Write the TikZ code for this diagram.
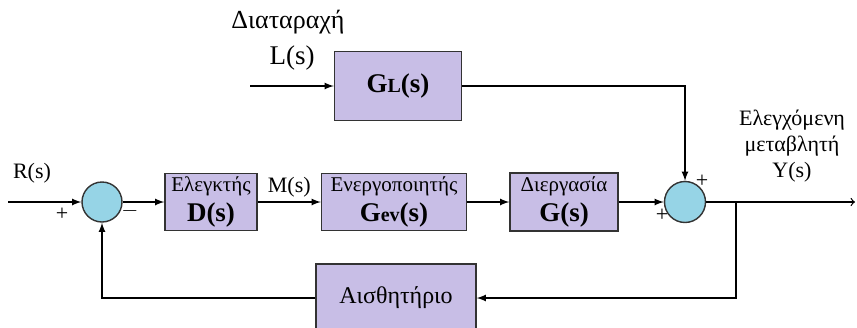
\documentclass[tikz,border=0pt]{standalone}
\usepackage{fontspec}
\setmainfont{Liberation Serif}
\usepackage{tikz}
\usetikzlibrary{shapes.misc, positioning, shapes.geometric, arrows}
\definecolor{boxfill}{RGB}{200,190,230}
\definecolor{sumfill}{RGB}{150,212,230}
\tikzstyle{block} = [rectangle, draw=black!80, fill=boxfill, line width=0.7pt, text centered, align=center, inner sep=1pt]
\tikzstyle{sumnode} = [circle, draw=black!80, fill=sumfill, line width=0.7pt, minimum size=20pt, inner sep=0pt]
\tikzstyle{arrow} = [line width=0.6pt,->,>=latex]
\tikzstyle{line} = [line width=0.6pt]
\tikzstyle{lbl} = [inner sep=0pt, font=\fontsize{11}{13}\selectfont]
\def\smalltxt{\fontsize{10.5}{12}\selectfont}
\def\bigtxt{\fontsize{13.5}{15}\selectfont\bfseries}

\begin{document}
\begin{tikzpicture}[x=0.5pt,y=-0.5pt]
\useasboundingbox (0,0) rectangle (857,327);

\node (gl) [block, minimum width=63.5pt, minimum height=34.5pt] at (398,86) {\bigtxt G{\fontsize{10}{12}\selectfont L}(s)};
\node (dist) [lbl, font=\fontsize{13}{15}\selectfont] at (288,22) {Διαταραχή};
\node (lin) [lbl, font=\fontsize{13.5}{15}\selectfont] at (292,58) {L(s)};
\coordinate (lstart) at (250,86);
\draw [arrow] (lstart) -- (gl);

\node (sum1) [sumnode] at (102,202) {};
\coordinate (rstart) at (8,202);
\node (rin) [lbl] at (32,173) {R(s)};
\draw [arrow] (rstart) -- (sum1);
\node (plus1) [lbl] at (62,214) {+};
\node (minus1) [lbl] at (130,211) {$-$};

\node (ctrl) [block, minimum width=46pt, minimum height=28.5pt] at (211,202) {{\smalltxt Ελεγκτής}\\[3pt]{\bigtxt D(s)}};
\draw [arrow] (sum1) -- (ctrl);
\node (act) [block, minimum width=72.5pt, minimum height=28.5pt] at (394,202) {{\smalltxt Ενεργοποιητής}\\[3pt]{\bigtxt G{\fontsize{10}{12}\selectfont ev}(s)}};
\draw [arrow] (ctrl) -- node[lbl, above=2pt] {M(s)} (act);
\node (proc) [block, minimum width=54pt, minimum height=29pt] at (564,202) {{\smalltxt Διεργασία}\\[3pt]{\bigtxt G(s)}};
\draw [arrow] (act) -- (proc);

\node (sum2) [sumnode, minimum size=20.5pt] at (685,202) {};
\draw [arrow] (proc) -- (sum2);
\draw [arrow] (gl) -| (sum2);
\node (plus2) [lbl] at (702,181) {+};
\node (plus3) [lbl] at (662,215) {+};

\node (yout) [lbl, align=center] at (792,146) {Ελεγχόμενη\\μεταβλητή\\Y(s)};
\coordinate (branch) at (736,202);
\coordinate (yend) at (855,202);
\draw [line, ->, >=to] (sum2) -- (yend);

\node (sens) [block, minimum width=80pt, minimum height=34pt] at (396,298) {\fontsize{12}{14}\selectfont Αισθητήριο};
\draw [arrow] (branch) |- (sens);
\draw [arrow] (sens) -| (sum1);

\end{tikzpicture}
\end{document}
